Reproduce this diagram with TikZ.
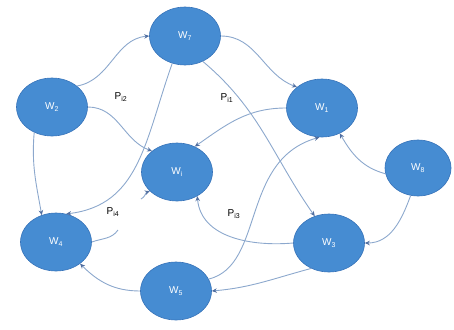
\documentclass[tikz,border=0pt]{standalone}
\usepackage{fontspec}
\setmainfont{Liberation Sans}
\usetikzlibrary{shapes.geometric,arrows.meta}
\definecolor{wfill}{RGB}{70,140,210}
\definecolor{wline}{RGB}{55,115,185}
\definecolor{edgec}{RGB}{140,168,205}
\definecolor{tipc}{RGB}{80,110,160}
\begin{document}
\begin{tikzpicture}[x=1pt,y=-1pt,
    wnode/.style={ellipse,fill=wfill,draw=wline,line width=0.6pt,minimum width=71pt,minimum height=58pt,inner sep=0pt,text=white,font=\normalsize},
    link/.style={draw=edgec,line width=0.9pt,-{Stealth[length=5pt,width=4.5pt,color=tipc]}},
    plain/.style={draw=edgec,line width=0.9pt},
    plab/.style={font=\normalsize,text=black}]
     \useasboundingbox (0,0) rectangle (454,329);
     \node[wnode] (w7) at (185,36) {W\textsubscript{7}};
     \node[wnode] (w2) at (52,107) {W\textsubscript{2}};
     \node[wnode] (w1) at (322,108) {W\textsubscript{1}};
     \node[wnode] (wi) at (177,172) {W\textsubscript{i}};
     \node[wnode,minimum width=66pt,minimum height=56pt] (w8) at (418,168) {W\textsubscript{8}};
     \node[wnode] (w4) at (56,242) {W\textsubscript{4}};
     \node[wnode] (w3) at (329,243) {W\textsubscript{3}};
     \node[wnode] (w5) at (176,291) {W\textsubscript{5}};
     \coordinate (c1) at (118,230);
     \coordinate (c2) at (141,199);
     \draw[link] (w2.40) to[out=10,in=185] (w7.west);
     \draw[link] (w7.east) to[out=0,in=160] (w1.140);
     \draw[link] (w7.245) .. controls (145,140) and (140,205) .. (w4.70);
     \draw[link] (w7.305) to[out=-40,in=125] (w3.118);
     \draw[link] (w2.east) to[out=0,in=160] (wi.140);
     \draw[link] (w1.west) to[out=180,in=35] (wi.55);
     \draw[link] (w2.235) to[out=-95,in=100] (w4.118);
     \draw[plain] (w4.east) to[out=20,in=235] (c1);
     \draw[link] (c2) to[out=25,in=200] (wi.215);
     \draw[link] (w3.west) to[out=185,in=-85] (wi.310);
     \draw[link] (w5.20) .. controls (265,265) and (240,160) .. (w1.265);
     \draw[link] (w8.190) to[out=165,in=-60] (w1.305);
     \draw[link] (w8.255) to[out=-110,in=0] (w3.east);
     \draw[link] (w3.235) to[out=195,in=5] (w5.east);
     \draw[link] (w5.west) to[out=180,in=-45] (w4.318);
     \node[plab] (p2) at (121,97) {P\textsubscript{i2}};
     \node[plab] (p1) at (227,98) {P\textsubscript{i1}};
     \node[plab] (p4) at (113,212) {P\textsubscript{i4}};
     \node[plab] (p3) at (234,214) {P\textsubscript{i3}};
\end{tikzpicture}
\end{document}
